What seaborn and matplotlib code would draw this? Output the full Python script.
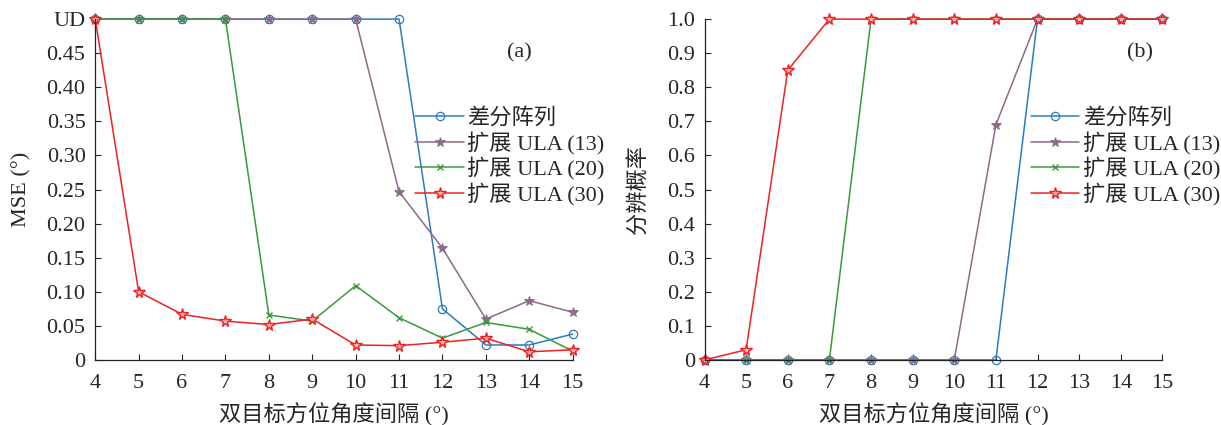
import pandas as pd
import seaborn as sns
import matplotlib.pyplot as plt

# x axis: angle separation (deg)
sep = [4, 5, 6, 7, 8, 9, 10, 11, 12, 13, 14, 15]
names = ["差分阵列", "扩展 ULA (13)", "扩展 ULA (20)", "扩展 ULA (30)"]

# (a) MSE, 0.5 stands for UD (unresolved)
mse_diff = [0.5, 0.5, 0.5, 0.5, 0.5, 0.5, 0.5, 0.5, 0.075, 0.022, 0.022, 0.038]
mse_u13 = [0.5, 0.5, 0.5, 0.5, 0.5, 0.5, 0.5, 0.247, 0.164, 0.060, 0.087, 0.070]
mse_u20 = [0.5, 0.5, 0.5, 0.5, 0.066, 0.057, 0.109, 0.062, 0.032, 0.055, 0.045, 0.013]
mse_u30 = [0.5, 0.100, 0.067, 0.057, 0.052, 0.060, 0.022, 0.021, 0.026, 0.032, 0.012, 0.015]

# (b) resolution probability
p_diff = [0, 0, 0, 0, 0, 0, 0, 0, 1, 1, 1, 1]
p_u13 = [0, 0, 0, 0, 0, 0, 0, 0.69, 1, 1, 1, 1]
p_u20 = [0, 0, 0, 0, 1, 1, 1, 1, 1, 1, 1, 1]
p_u30 = [0, 0.03, 0.85, 1, 1, 1, 1, 1, 1, 1, 1, 1]

yticks_a = [0, 0.05, 0.10, 0.15, 0.20, 0.25, 0.30, 0.35, 0.40, 0.45, 0.5]
ylabels_a = ["0", "0.05", "0.10", "0.15", "0.20", "0.25", "0.30", "0.35", "0.40", "0.45", "UD"]
yticks_b = [0, 0.1, 0.2, 0.3, 0.4, 0.5, 0.6, 0.7, 0.8, 0.9, 1.0]
ylabels_b = ["0", "0.1", "0.2", "0.3", "0.4", "0.5", "0.6", "0.7", "0.8", "0.9", "1.0"]

colors = ["#2b7bbf", "#8c6a88", "#3a9a3a", "#f02020"]
styles = [
    dict(marker="o", mfc="none", ms=6, mew=0.9),
    dict(marker="*", ms=7, mew=0.6),
    dict(marker="x", ms=4.5, mew=1.0),
    dict(marker="*", mfc="#ffb0b0", ms=8.5, mew=1.0),
]

FS = 16

sns.set_style("ticks")
plt.rcParams["font.family"] = ["Liberation Serif", "Noto Sans CJK SC"]
plt.rcParams["font.size"] = FS
plt.rcParams["xtick.direction"] = "in"
plt.rcParams["ytick.direction"] = "in"

fig = plt.figure(figsize=(12.21, 4.25), dpi=100)
ax1 = fig.add_axes([0.078, 0.153, 0.391, 0.802])
ax2 = fig.add_axes([0.577, 0.153, 0.375, 0.802])


def draw(ax, series, yticks, ylabels, ylabel, ylpad, tag, tag_x, leg_anchor):
    for name, vals, c, st in zip(names, series, colors, styles):
        df = pd.DataFrame({"x": sep, "y": vals})
        sns.lineplot(data=df, x="x", y="y", ax=ax, color=c, lw=1.1,
                     label=name, mec=c, clip_on=False, **st)
    ax.set_xlim(4, 15)
    ax.set_xticks(sep)
    ax.set_ylim(yticks[0], yticks[-1])
    ax.set_yticks(yticks)
    ax.set_yticklabels(ylabels)
    ax.set_xlabel("双目标方位角度间隔 (°)", fontsize=FS, labelpad=7)
    ax.set_ylabel(ylabel, fontsize=FS, labelpad=ylpad)
    ax.tick_params(axis="x", labelsize=FS, length=4, width=0.8, pad=10)
    ax.tick_params(axis="y", labelsize=FS, length=4, width=0.8, pad=7)
    for s in ["top", "right"]:
        ax.spines[s].set_visible(False)
    for s in ["left", "bottom"]:
        ax.spines[s].set_linewidth(0.9)
        ax.spines[s].set_color("#222222")
    ax.text(tag_x, 0.9, tag, transform=ax.transAxes, fontsize=FS,
            ha="center", va="center")
    ax.legend(loc="upper left", bbox_to_anchor=leg_anchor, frameon=False,
              fontsize=FS, handlelength=2.2, handletextpad=0.15,
              labelspacing=0.12, borderpad=0, borderaxespad=0)


draw(ax1, [mse_diff, mse_u13, mse_u20, mse_u30], yticks_a, ylabels_a,
     "MSE (°)", 11, "(a)", 0.889, (0.67, 0.74))
draw(ax2, [p_diff, p_u13, p_u20, p_u30], yticks_b, ylabels_b,
     "分辨概率", 13, "(b)", 0.952, (0.712, 0.74))

fig.savefig("out.png", dpi=100)
